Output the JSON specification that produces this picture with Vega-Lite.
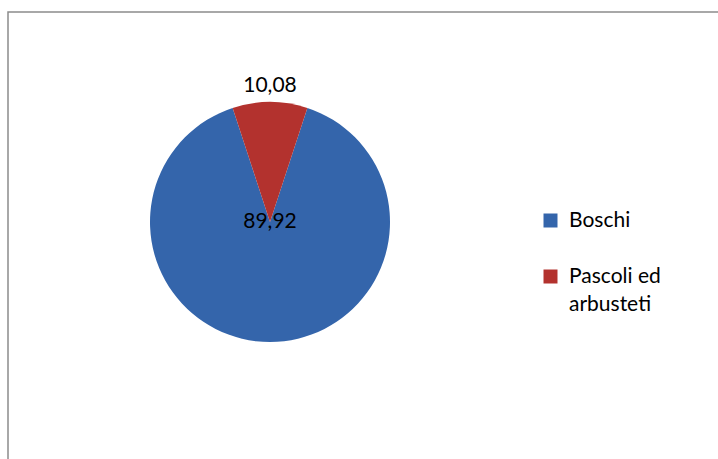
{
  "$schema": "https://vega.github.io/schema/vega-lite/v6.json",
  "width": 710,
  "height": 447,
  "padding": {"left": 8, "top": 12, "right": 0, "bottom": 0},
  "autosize": {"type": "none"},
  "background": "white",
  "view": {"stroke": "#8c8c8c", "strokeWidth": 1.5, "strokeDash": [710, 1157, 447, 1]},
  "config": {
    "view": {"stroke": "#8c8c8c", "strokeWidth": 1.5, "strokeDash": [710, 1157, 447, 1]},
    "font": "Lato",
    "style": {"guide-label": {"lineHeight": 28}, "cell": {"strokeDash": [710, 1157, 447, 1]}}
  },
  "data": {
    "values": [
      {"cat": "Boschi", "value": 89.92, "label": "89,92"},
      {"cat": "Pascoli ed arbusteti", "value": 10.08, "label": "10,08"}
    ]
  },
  "encoding": {
    "x": {"datum": 0, "type": "quantitative", "scale": {"domain": [-262, 448], "nice": false, "zero": false}, "axis": null},
    "y": {"datum": 0, "type": "quantitative", "scale": {"domain": [-237, 210], "nice": false, "zero": false}, "axis": null},
    "theta": {"field": "value", "type": "quantitative", "stack": true, "scale": {"range": [0.3167, 6.5999]}},
    "order": {"field": "value", "type": "quantitative", "sort": "descending"}
  },
  "layer": [
    {
      "mark": {"type": "arc", "outerRadius": 120},
      "encoding": {
        "color": {
          "field": "cat",
          "type": "nominal",
          "scale": {"domain": ["Boschi", "Pascoli ed arbusteti"], "range": ["#3465AB", "#B3322E"]},
          "legend": {
            "title": null,
            "orient": "none",
            "legendX": 532,
            "legendY": 198,
            "symbolType": "square",
            "symbolSize": 196,
            "symbolStrokeWidth": 0,
            "labelFontSize": 21,
            "labelFont": "Lato",
            "labelColor": "#000000",
            "labelOffset": 8,
            "labelLimit": 300,
            "rowPadding": 34,
            "labelExpr": "datum.label === 'Pascoli ed arbusteti' ? ['Pascoli ed', 'arbusteti'] : datum.label"
          }
        }
      }
    },
    {
      "mark": {"type": "text", "radius": 0, "fontSize": 21, "font": "Lato", "color": "#000000"},
      "encoding": {
        "detail": {"field": "cat"},
        "text": {"condition": {"test": "datum.cat === 'Boschi'", "field": "label"}, "value": ""}
      }
    },
    {
      "mark": {"type": "text", "radius": 136, "fontSize": 21, "font": "Lato", "color": "#000000"},
      "encoding": {
        "detail": {"field": "cat"},
        "text": {"condition": {"test": "datum.cat === 'Pascoli ed arbusteti'", "field": "label"}, "value": ""}
      }
    }
  ]
}
